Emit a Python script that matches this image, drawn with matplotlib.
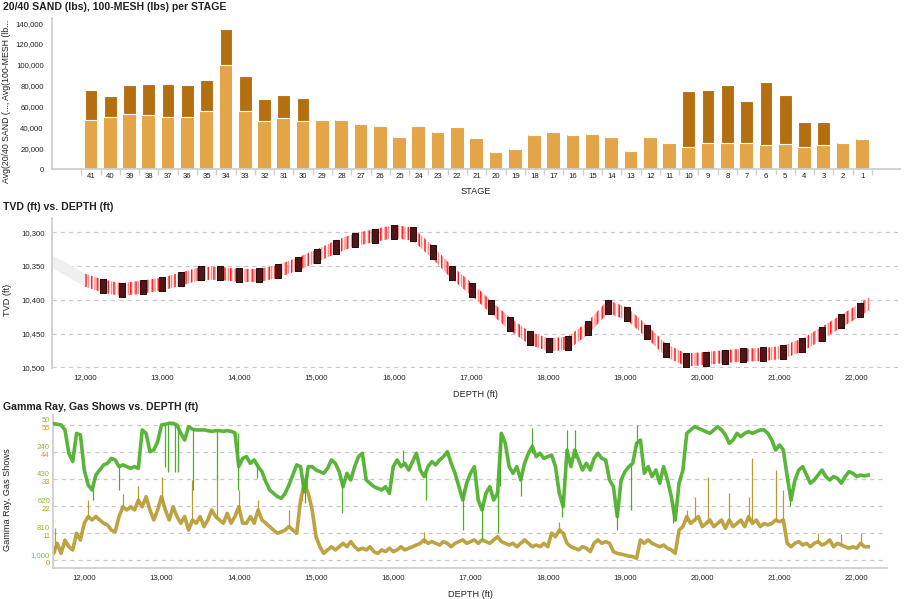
import numpy as np
import matplotlib
matplotlib.use('Agg')
import matplotlib.pyplot as plt
from matplotlib.path import Path
from matplotlib.ticker import FuncFormatter

plt.rcParams['font.family'] = ['Liberation Sans', 'DejaVu Sans']
plt.rcParams['lines.scale_dashes'] = False
plt.rcParams['hatch.linewidth'] = 1.0

# ---------------- data: proppant per stage ----------------
stages = list(range(41, 0, -1))
sand_2040 = [46800, 49700, 52600, 51600, 49700, 49700, 55800, 99700, 55400, 45900,
             48700, 46200, 47200, 47100, 43300, 41400, 30800, 41500, 35600, 40500,
             30200, 16400, 19200, 32700, 35600, 32700, 33600, 30800, 17300, 30800,
             25000, 21400, 25300, 25300, 25300, 23400, 24400, 21400, 23400, 25000,
             28900]
mesh_100 = [29200, 20500, 28200, 30100, 32000, 31100, 29800, 34900, 34000, 21400,
            22400, 22100, 800, 0, 0, 0, 0, 800, 0, 900,
            600, 0, 0, 0, 0, 0, 0, 0, 0, 0,
            1000, 53600, 50700, 55500, 40100, 60300, 46800, 23800, 21800, 0,
            0]

# ---------------- data: well path ----------------
heel_md = [11580, 11780, 12000]
heel_tvd = [10344, 10356, 10371]
plug_md = [12235, 12480, 12750, 12995, 13250, 13500, 13750, 13995, 14255, 14500,
           14755, 15005, 15250, 15500, 15755, 16005, 16250, 16505, 16755, 17015,
           17260, 17505, 17765, 18010, 18260, 18515, 18775, 19025, 19280, 19530,
           19785, 20045, 20290, 20530, 20790, 21040, 21295, 21545, 21795, 22040]
plug_tvd = [10380, 10385, 10381, 10377, 10369, 10361, 10361, 10364, 10364, 10358,
            10347, 10335, 10322, 10311, 10305, 10299, 10303, 10330, 10360, 10385,
            10411, 10436, 10457, 10467, 10464, 10442, 10410, 10421, 10447, 10475,
            10489, 10487, 10484, 10482, 10481, 10478, 10467, 10450, 10432, 10415]
toe_md = 22160
toe_tvd = 10406
band_half = 9.6   # half thickness of the drawn wellbore, ft

# ---------------- data: logs (50 ft samples from 11,600 ft) ----------------
log_start = 11600
log_step = 50
gamma = [40, 45, 50, 85, 249, 308, 109, 120,
         367, 472, 507, 402, 367, 331, 320, 285, 296, 343, 331, 343, 355, 343, 355, 85, 109, 238, 226, 167,
         50, 45, 38, 38, 50, 109, 156, 62, 80, 85, 85, 85, 90, 95, 90, 90, 95, 90, 95, 105,
         343, 285, 273, 320, 296, 343, 378, 449, 507, 531, 554, 566, 531, 472, 402, 331, 343, 520, 343, 343,
         367, 378, 390, 355, 296, 320, 378, 484, 390, 437, 343, 273, 249, 437, 460, 484, 496, 507, 484, 531,
         343, 296, 343, 320, 367, 308, 249, 367, 413, 343, 308, 331, 296, 273, 238, 320, 390, 484, 578, 460,
         390, 343, 578, 648, 531, 484, 578, 531, 109, 179, 343, 390, 343, 437, 320, 249, 200, 273, 249, 285,
         273, 261, 343, 531, 625, 226, 343, 226, 296, 367, 320, 367, 285, 249, 285, 296, 437, 484, 695, 437,
         378, 343, 320, 179, 156, 390, 343, 413, 367, 460, 343, 437, 554, 719, 460, 367, 109, 85, 62, 74,
         85, 97, 109, 85, 62, 85, 120, 179, 156, 109, 132, 109, 97, 109, 97, 85, 85, 109, 156, 226,
         191, 226, 413, 578, 437, 367, 343, 402, 460, 437, 402, 367, 413, 437, 413, 425, 460, 413, 378, 390,
         413, 402, 409, 402]
gas = [2.7, 6.8, 2.7, 8.1, 5.4, 4.1, 10.9, 8.1,
       15, 17.7, 16.3, 17.7, 16.3, 15, 14.3, 12.2, 11.5, 17.7, 21.7, 20.4, 21.7, 20.4, 24.4, 21.7, 25.8, 20.4, 16.3, 20.4,
       25.8, 20.4, 16.3, 21.7, 17.7, 15, 17.7, 12.2, 16.3, 15, 17.7, 13.6, 16.3, 20.4, 17.7, 16.3, 15, 19, 15, 17.7,
       21.7, 15, 15, 17.7, 15, 20.4, 16.3, 15, 13.6, 12.2, 10.9, 11.5, 12.2, 13.6, 12.2, 10.9, 24.4, 31.2, 27.2, 20.4,
       9.5, 5.4, 2.7, 4.1, 5.4, 4.1, 5.4, 6.8, 5.4, 7.5, 5.4, 4.1, 4.8, 4.1, 5.4, 3.4, 2.7, 4.1, 3.4, 4.8,
       3.4, 4.1, 5.4, 4.1, 4.8, 5.4, 6.1, 6.8, 8.2, 6.8, 7.5, 6.8, 6.1, 7.5, 6.8, 5.4, 6.8, 7.5, 8.2, 6.8,
       7.5, 8.2, 6.8, 8.2, 7.5, 6.8, 8.2, 9.5, 7.5, 6.8, 6.1, 6.8, 5.4, 6.8, 8.2, 6.8, 5.4, 6.1, 5.4, 6.8,
       5.4, 10.9, 9.5, 12.2, 10.9, 6.8, 5.4, 4.8, 4.1, 5.4, 4.8, 3.4, 6.8, 8.2, 6.8, 7.5, 6.8, 3.4, 2.7, 2.4,
       2.0, 1.6, 1.4, 0.7, 8.2, 6.8, 8.2, 6.8, 6.1, 5.4, 6.1, 4.8, 4.1, 2.7, 12.2, 13.6, 17.7, 14.9, 16.3, 17.7,
       13.6, 14.9, 16.3, 13.6, 14.9, 16.3, 12.9, 16.3, 13.6, 14.9, 16.3, 13.6, 17.7, 14.9, 16.3, 13.6, 14.9, 14.3, 14.9, 16.3,
       15.6, 16.3, 6.8, 5.4, 6.8, 7.5, 6.1, 6.8, 5.4, 6.8, 7.5, 6.1, 6.8, 8.2, 5.4, 6.8, 6.1, 5.4, 4.8, 5.4,
       4.8, 6.8, 5.4, 5.4]

# short spikes in the logs: depth, from, to
gamma_spk_md = [12110, 12455, 13045, 13090, 13175, 13215, 13410, 13715, 13995, 14240, 14860,
                15340, 16430, 16900, 17150, 17350, 17650, 18190, 18900, 19075, 19620, 21140,
                16120, 17800, 18250, 18350, 19160, 17380]
gamma_spk_lo = [470, 343, 45, 40, 40, 50, 80, 90, 105, 320, 400,
                430, 380, 500, 600, 500, 400, 550, 600, 330, 600, 500,
                330, 250, 280, 280, 200, 480]
gamma_spk_hi = [578, 507, 343, 378, 378, 378, 507, 437, 507, 420, 600,
                672, 580, 789, 859, 812, 550, 695, 789, 650, 740, 620,
                226, 70, 85, 85, 50, 100]
gas_spk_md = [11620, 12050, 12500, 12700, 13000, 13400, 13720, 14000, 14250, 14650, 14820, 14880,
              16400, 18150, 19800, 19900, 20080, 20350, 20600, 20650, 20950, 21050, 21500, 21800, 22050]
gas_spk_lo = [3, 17, 21, 23, 24, 16, 17, 20, 19, 13, 24, 28,
              7, 11, 16, 16, 15, 16, 16, 16, 16, 16, 7, 6, 6]
gas_spk_hi = [13, 24.4, 27, 30, 34, 32.6, 34.6, 28.5, 24.5, 20.4, 34, 35.4,
              11.5, 15.6, 20.4, 25.8, 34, 27.2, 25.8, 41.4, 36.7, 28.5, 11, 10.5, 11]

log_md = log_start + log_step * np.arange(len(gamma))

# ---------------- styling ----------------
txt = '#222222'
spine = '#cfcfcf'
grid_kw = dict(color='#c8c8c8', lw=0.9, dashes=(3, 3))
tick_fs = 5.6
lab_fs = 6.6
title_fs = 7.6
comma = FuncFormatter(lambda v, p: '{:,.0f}'.format(v))

fig = plt.figure(figsize=(9.05, 5.99), dpi=100)
W, H = 905.0, 599.0


def box(l, t, r, b):
    return [l / W, 1 - b / H, (r - l) / W, (b - t) / H]


def clean(ax, bottom=True):
    for s in ['top', 'right']:
        ax.spines[s].set_visible(False)
    ax.spines['left'].set_color(spine)
    ax.spines['left'].set_linewidth(1.3)
    ax.spines['bottom'].set_color(spine)
    ax.spines['bottom'].set_linewidth(1.3)
    ax.spines['bottom'].set_visible(bottom)
    ax.tick_params(length=0, labelsize=tick_fs, colors=txt)


# ---- top: stacked bars ----
ax1 = fig.add_axes(box(52, 18, 900, 169))
clean(ax1)
xpos = np.arange(len(stages))
ax1.bar(xpos, sand_2040, width=0.66, color='#e3a548', zorder=2)
ax1.bar(xpos, mesh_100, width=0.66, bottom=sand_2040, color='#b46f10',
        edgecolor='white', linewidth=0.8, zorder=3)
ax1.set_xlim(-2.02, 41.95)
ax1.set_ylim(0, 145000)
ax1.set_xticks(xpos)
ax1.set_xticklabels([str(s) for s in stages])
ax1.set_xticks(np.arange(len(stages) + 1) - 0.5, minor=True)
ax1.tick_params(axis='x', which='minor', length=4, color=spine, width=1)
ax1.tick_params(axis='x', which='major', pad=3)
ax1.tick_params(axis='y', pad=6)
ax1.set_yticks(np.arange(0, 140001, 20000))
ax1.yaxis.set_major_formatter(comma)
ax1.set_xlabel('STAGE', fontsize=lab_fs, color=txt, labelpad=5)
fig.text(3 / W, 1 - 7 / H, '20/40 SAND (lbs), 100-MESH (lbs) per STAGE', fontsize=title_fs,
         fontweight='bold', color=txt, va='center', ha='left')
fig.text(7 / W, 1 - 101 / H, 'Avg(20/40 SAND (..., Avg(100-MESH (lb...', fontsize=6.3,
         color=txt, rotation=90, va='center', ha='center')

# ---- middle: well path ----
ax2 = fig.add_axes(box(52, 218, 898, 368))
clean(ax2, bottom=False)
ax2.set_xlim(11572, 22535)
ax2.set_ylim(10501, 10279)
ax2.set_yticks([10300, 10350, 10400, 10450, 10500])
ax2.set_xticks(np.arange(12000, 22001, 1000))
ax2.xaxis.set_major_formatter(comma)
ax2.yaxis.set_major_formatter(comma)
ax2.tick_params(axis='x', pad=4)
ax2.tick_params(axis='y', pad=5)
for v in [10300, 10350, 10400, 10450, 10500]:
    ax2.axhline(v, zorder=0, **grid_kw)

lat_md = np.array([heel_md[-1]] + plug_md + [toe_md])
lat_tvd = np.array([heel_tvd[-1]] + plug_tvd + [toe_tvd])
heel_md_a = np.array(heel_md)
heel_tvd_a = np.array(heel_tvd)
ax2.fill_between(heel_md_a, heel_tvd_a - band_half, heel_tvd_a + band_half,
                 color='#efefef', linewidth=0, zorder=2)
ax2.fill_between(lat_md, lat_tvd - band_half, lat_tvd + band_half, facecolor='none',
                 edgecolor='#ff8a8a', hatch='|||||', linewidth=0, zorder=3)
ax2.fill_between(lat_md, lat_tvd - band_half, lat_tvd + band_half, facecolor='none',
                 edgecolor='#ff1f1f', hatch='|||', linewidth=0, zorder=4)
rect = Path([(-2.7, -7), (2.7, -7), (2.7, 7), (-2.7, 7), (-2.7, -7)])
ax2.plot(plug_md, plug_tvd, ls='none', marker=rect, ms=10.4, mfc='#4d1717',
         mec='#2a0b0b', mew=0.7, zorder=5)
ax2.set_xlabel('DEPTH (ft)', fontsize=lab_fs, color=txt, labelpad=7)
fig.text(8 / W, 1 - 300 / H, 'TVD (ft)', fontsize=lab_fs, color=txt,
         rotation=90, va='center', ha='center')
fig.text(3 / W, 1 - 207 / H, 'TVD (ft) vs. DEPTH (ft)', fontsize=title_fs,
         fontweight='bold', color=txt, va='center', ha='left')

# ---- bottom: logs ----
ax3 = fig.add_axes(box(53, 415, 887, 568))
clean(ax3)
ax3.set_xlim(11595, 22392)
ax3.set_ylim(-3.26, 59.1)
gas_ticks = [0, 11, 22, 33, 44, 55]
for v in gas_ticks:
    ax3.axhline(v, zorder=0, **grid_kw)
ax3.set_yticks([])
ax3.set_xticks(np.arange(12000, 22001, 1000))
ax3.xaxis.set_major_formatter(comma)
ax3.tick_params(axis='x', pad=4)
gold = '#b89b33'
green = '#4caf2a'
ax3.plot(log_md, gas, color=gold, lw=2.6, alpha=0.92, zorder=2)
ax3.vlines(gas_spk_md, gas_spk_lo, gas_spk_hi, color=gold, lw=0.9, zorder=2)

ax3g = ax3.twinx()
ax3g.set_ylim(1056, -20)
for s in ax3g.spines.values():
    s.set_visible(False)
ax3g.set_yticks([])
ax3g.plot(log_md, gamma, color=green, lw=2.6, alpha=0.92, zorder=3)
ax3g.vlines(gamma_spk_md, gamma_spk_lo, gamma_spk_hi, color=green, lw=0.9, zorder=3)

gamma_ticks = [50, 240, 430, 620, 810, 1000]
for v in gamma_ticks:
    ax3g.annotate('{:,}'.format(v), xy=(0, v), xycoords=('axes fraction', 'data'),
                  xytext=(-3, 4.5), textcoords='offset pixels', ha='right', va='center',
                  fontsize=tick_fs, color='#8dbd34', annotation_clip=False)
for v in gas_ticks:
    ax3.annotate('{:,}'.format(v), xy=(0, v), xycoords=('axes fraction', 'data'),
                 xytext=(-3, -3.5), textcoords='offset pixels', ha='right', va='center',
                 fontsize=tick_fs, color='#c39f2e', annotation_clip=False)

ax3.set_xlabel('DEPTH (ft)', fontsize=lab_fs, color=txt, labelpad=7)
fig.text(8 / W, 1 - 500 / H, 'Gamma Ray, Gas Shows', fontsize=lab_fs, color=txt,
         rotation=90, va='center', ha='center')
fig.text(3 / W, 1 - 407 / H, 'Gamma Ray, Gas Shows vs. DEPTH (ft)', fontsize=title_fs,
         fontweight='bold', color=txt, va='center', ha='left')

fig.savefig('out.png', dpi=100)
